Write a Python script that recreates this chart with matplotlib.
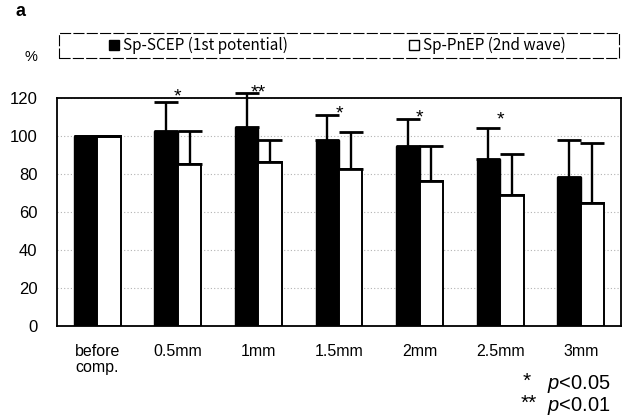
import numpy as np
import matplotlib
matplotlib.use('Agg')
import matplotlib.pyplot as plt
from matplotlib.lines import Line2D
from matplotlib.patches import Rectangle

# values (% of baseline, mean and +SD)
groups = ['before\ncomp.', '0.5mm', '1mm', '1.5mm', '2mm', '2.5mm', '3mm']
scep_mean = [100, 102.5, 105, 98, 95, 88, 78.5]
scep_top = [100, 118, 122.5, 111, 109, 104, 98]
pnep_mean = [100, 85.5, 86.5, 82.5, 76.5, 69, 65]
pnep_top = [100, 102.5, 98, 102, 95, 90.5, 96.5]
stars = ['', '*', '**', '*', '*', '*', '']
star_y = [0, 124, 126.5, 115, 113, 112, 0]

plt.rcParams['font.family'] = ['Liberation Sans', 'DejaVu Sans']
plt.rcParams['mathtext.fontset'] = 'custom'
plt.rcParams['mathtext.rm'] = 'Liberation Sans'
plt.rcParams['mathtext.it'] = 'Liberation Sans:italic'

fig = plt.figure(figsize=(6.27, 4.16), dpi=100)
ax = fig.add_axes([57/627, 1-326/416, 564/627, 228/416])

x = np.arange(len(groups))
w = 0.29
scep_err = np.array(scep_top) - np.array(scep_mean)
pnep_err = np.array(pnep_top) - np.array(pnep_mean)
zeros = np.zeros(len(groups))

ekw = dict(elinewidth=1.7, capthick=2.0, ecolor='black')
b1 = ax.bar(x - w/2, scep_mean, w, color='black', edgecolor='black', linewidth=1.0,
            yerr=[zeros, scep_err], capsize=8.6, error_kw=ekw, zorder=3)
b2 = ax.bar(x + w/2, pnep_mean, w, color='white', edgecolor='black', linewidth=1.4,
            yerr=[zeros, pnep_err], capsize=8.6, error_kw=ekw, zorder=3)
for cont in (b1, b2):
    for part in cont.errorbar.lines:
        if isinstance(part, tuple):
            for p in part:
                p.set_clip_on(False)
        elif part is not None:
            part.set_clip_on(False)

# significance stars (asterisk glyph sits about 5.5 units above its baseline)
for i, s in enumerate(stars):
    if s:
        ax.text(x[i], star_y[i] - 6, s, ha='center', va='baseline', fontsize=14,
                clip_on=False)

ax.set_xlim(-0.5, len(groups) - 0.5)
ax.set_ylim(0, 120)
ax.set_yticks(np.arange(0, 121, 20))
ax.set_xticks(x)
ax.set_xticklabels(groups, fontsize=11.5, linespacing=1.05)
ax.tick_params(axis='y', labelsize=12, length=0, pad=14)
ax.tick_params(axis='x', length=0, pad=13)
for sp in ax.spines.values():
    sp.set_linewidth(1.3)
ax.yaxis.grid(True, linestyle=(0, (1, 2)), color='gray', linewidth=0.8, alpha=0.6)
ax.set_axisbelow(True)

# legend box across the top
fig.patches.append(Rectangle((59/627, 1-58/416), 560/627, 25/416, transform=fig.transFigure,
                             fill=False, edgecolor='black', linewidth=0.8,
                             linestyle=(0, (10, 2))))
handles = [
    Line2D([], [], marker='s', color='black', markerfacecolor='black', linestyle='none', markersize=7),
    Line2D([], [], marker='s', color='black', markerfacecolor='white', linestyle='none', markersize=7,
           markeredgewidth=1.0),
]
fig.legend(handles, ['Sp-SCEP (1st potential)', 'Sp-PnEP (2nd wave)'],
           loc='center left', ncol=2, bbox_to_anchor=(108.5/627, 1-45.5/416),
           bbox_transform=fig.transFigure, frameon=False,
           handlelength=0.7, handletextpad=0.25, borderpad=0, borderaxespad=0,
           columnspacing=7.9,
           prop={'family': ['Noto Sans CJK JP', 'DejaVu Sans'], 'size': 11})

fig.text(15/627, 1-12/416, 'a', fontsize=13, fontweight='bold', ha='left', va='center')
fig.text(31/627, 1-57/416, '%', fontsize=10.5, ha='center', va='center')

fig.text(527/627, 1-387/416, '*', fontsize=15, ha='center', va='baseline')
fig.text(547/627, 1-389/416, '$p$<0.05', fontsize=14.5, ha='left', va='baseline')
fig.text(529/627, 1-409/416, '**', fontsize=15, ha='center', va='baseline')
fig.text(547/627, 1-411/416, '$p$<0.01', fontsize=14.5, ha='left', va='baseline')

fig.savefig('out.png', dpi=100)
